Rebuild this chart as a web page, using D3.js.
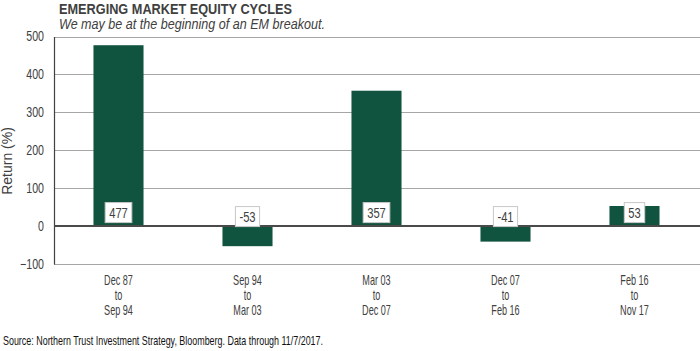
<!DOCTYPE html>
<html>
<head>
<meta charset="utf-8">
<script src="https://cdn.jsdelivr.net/npm/d3@7"></script>
<style>
  body { margin: 0; background: #fff; }
  text { font-family: "Liberation Sans Narrow", "Arial Narrow", "Liberation Sans", sans-serif; fill: #404040; }
</style>
</head>
<body>
<svg id="chart" width="700" height="351"></svg>
<script>
var categories = [
  ["Dec 87", "to", "Sep 94"],
  ["Sep 94", "to", "Mar 03"],
  ["Mar 03", "to", "Dec 07"],
  ["Dec 07", "to", "Feb 16"],
  ["Feb 16", "to", "Nov 17"]
]
var returns = [477, -53, 357, -41, 53]
var yTicks = [-100, 0, 100, 200, 300, 400, 500]

var margin = { top: 36.5, right: 1, bottom: 87, left: 54 }
var width = 700, height = 351
var svg = d3.select("#chart")

var keys = categories.map(function (d) { return d.join(" ") })

// 比例尺
var xScale = d3.scaleBand()
  .domain(keys)
  .range([margin.left, width - margin.right])
  .paddingInner(0.612)
  .paddingOuter(0.306)

var yScale = d3.scaleLinear()
  .domain([-100, 500])
  .range([height - margin.bottom, margin.top])

// 网格线
svg.append("g")
  .selectAll("line")
  .data(yTicks.filter(function (d) { return d !== 0 }))
  .enter()
  .append("line")
  .attr("x1", margin.left)
  .attr("x2", width)
  .attr("y1", function (d) { return Math.round(yScale(d)) + 0.5 })
  .attr("y2", function (d) { return Math.round(yScale(d)) + 0.5 })
  .attr("stroke", "#a6a6a6")
  .attr("stroke-width", 1)

// y轴
var yAxis = d3.axisLeft(yScale).tickValues(yTicks).tickSize(0).tickPadding(0)
var yG = svg.append("g")
  .attr("transform", "translate(" + margin.left + ",0)")
  .call(yAxis)
yG.select(".domain").attr("stroke", "#404040").attr("stroke-width", 1.2)
yG.selectAll(".tick text")
  .style("font-family", '"Liberation Sans Narrow", "Arial Narrow", "Liberation Sans", sans-serif')
  .style("font-size", "14px")
  .attr("fill", "#404040")
  .attr("x", null)
  .attr("transform", "translate(-10,0) scale(0.76,1)")

// 柱子
svg.append("g")
  .selectAll("rect")
  .data(returns)
  .enter()
  .append("rect")
  .attr("x", function (d, i) { return xScale(keys[i]) })
  .attr("y", function (d) { return yScale(Math.max(0, d)) })
  .attr("width", xScale.bandwidth())
  .attr("height", function (d) { return Math.abs(yScale(d) - yScale(0)) })
  .attr("fill", "#105440")

// 零线
svg.append("line")
  .attr("x1", margin.left)
  .attr("x2", width)
  .attr("y1", yScale(0))
  .attr("y2", yScale(0))
  .attr("stroke", "#4a4a4a")
  .attr("stroke-width", 2)

// 数据标签
var labels = svg.append("g")
  .selectAll("g")
  .data(returns)
  .enter()
  .append("g")
  .attr("transform", function (d, i) {
    var cx = xScale(keys[i]) + xScale.bandwidth() / 2
    var by = d >= 0 ? yScale(0) - 3.5 : yScale(0) + 0.5
    return "translate(" + cx + "," + by + ")"
  })
labels.append("text")
  .attr("text-anchor", "middle")
  .attr("y", -5)
  .attr("transform", "scale(0.8,1)")
  .style("font-size", "14px")
  .text(function (d) { return d })
labels.each(function () {
  var g = d3.select(this)
  var w = g.select("text").node().getBBox().width * 0.8
  g.insert("rect", "text")
    .attr("x", -w / 2 - 4)
    .attr("y", -20)
    .attr("width", w + 8)
    .attr("height", 20)
    .attr("fill", "#fff")
    .attr("stroke", "#c8c8c8")
    .attr("stroke-width", 1)
})

// x轴标签
var xl = svg.append("g")
  .selectAll("text")
  .data(categories)
  .enter()
  .append("text")
  .attr("text-anchor", "middle")
  .attr("transform", function (d, i) {
    return "translate(" + (xScale(keys[i]) + xScale.bandwidth() / 2) + ",285) scale(0.65,1)"
  })
  .style("font-size", "14px")
xl.selectAll("tspan")
  .data(function (d) { return d })
  .enter()
  .append("tspan")
  .attr("x", 0)
  .attr("dy", function (d, i) { return i === 0 ? 0 : 15 })
  .text(function (d) { return d })

// 轴标题
svg.append("text")
  .attr("transform", "translate(12,161) rotate(-90)")
  .attr("text-anchor", "middle")
  .style("font-size", "14px")
  .text("Return  (%)")

// 标题
svg.append("text")
  .attr("x", 59)
  .attr("y", 14)
  .style("font-size", "14px")
  .style("font-weight", "bold")
  .attr("textLength", 233)
  .attr("lengthAdjust", "spacingAndGlyphs")
  .text("EMERGING MARKET EQUITY CYCLES")
svg.append("text")
  .attr("x", 59)
  .attr("y", 29)
  .style("font-size", "14px")
  .style("font-style", "italic")
  .attr("textLength", 266)
  .attr("lengthAdjust", "spacingAndGlyphs")
  .text("We may be at the beginning of an EM breakout.")

// 来源
svg.append("text")
  .attr("x", 3)
  .attr("y", 345)
  .style("font-size", "13px")
  .style("fill", "#111")
  .attr("textLength", 320)
  .attr("lengthAdjust", "spacingAndGlyphs")
  .text("Source: Northern Trust Investment Strategy, Bloomberg. Data through 11/7/2017.")
</script>
</body>
</html>
